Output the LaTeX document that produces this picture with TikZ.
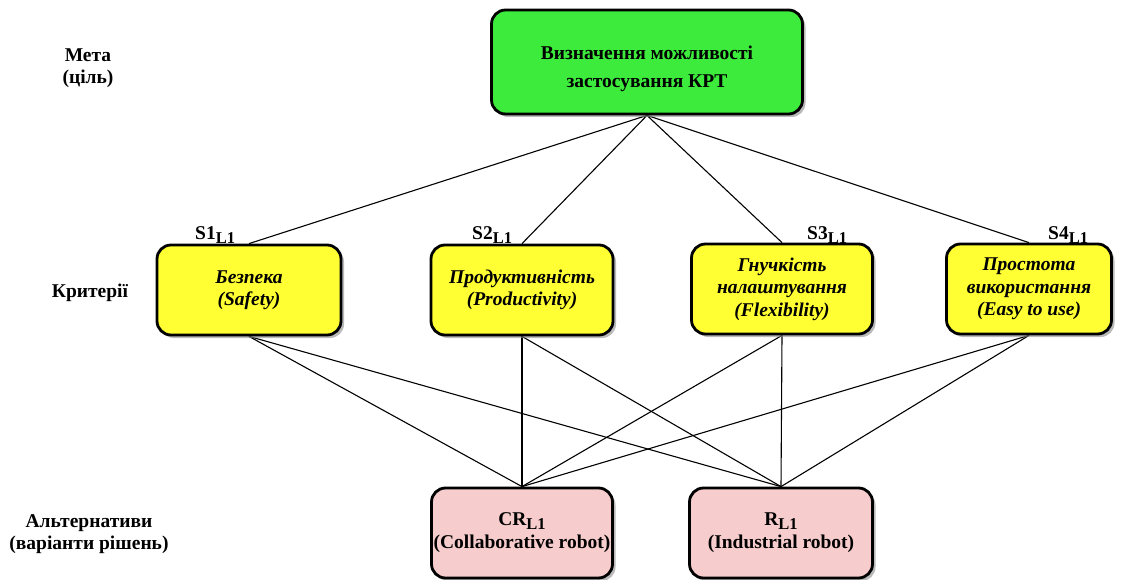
\documentclass[tikz,border=0pt]{standalone}
\usepackage{fontspec}
\setmainfont{LiberationSerif-Regular.ttf}[BoldFont=LiberationSerif-Bold.ttf, ItalicFont=LiberationSerif-Italic.ttf, BoldItalicFont=LiberationSerif-BoldItalic.ttf]
\usetikzlibrary{shadows,backgrounds}
\definecolor{goalgreen}{RGB}{60,235,60}
\definecolor{crityellow}{RGB}{255,255,51}
\definecolor{altpink}{RGB}{246,204,204}
\tikzset{
  box/.style={draw=black, line width=2.8pt, rounded corners=14pt, align=center,
    inner sep=1pt, drop shadow={shadow xshift=3pt, shadow yshift=-3pt, fill=black!45, opacity=0.6}},
  goalbox/.style={box, fill=goalgreen, minimum width=311pt, minimum height=104pt,
    font=\fontsize{19.5}{26}\selectfont\bfseries},
  critbox/.style={box, fill=crityellow, minimum height=90pt,
    font=\fontsize{19.5}{22.5}\selectfont\bfseries\itshape},
  altbox/.style={box, fill=altpink, minimum height=90pt,
    font=\fontsize{19.5}{23}\selectfont\bfseries},
  conn/.style={draw=black, line width=1.1pt},
  sidelabel/.style={align=center, font=\fontsize{19.5}{22}\selectfont\bfseries},
  slabel/.style={font=\fontsize{19.5}{20}\selectfont\bfseries, inner sep=0pt}
}
\newcommand{\subLone}{\raisebox{-0.4ex}{\fontsize{16.5}{16.5}\selectfont L1}}
\begin{document}
\begin{tikzpicture}[x=1pt,y=-1pt]
\useasboundingbox (0,0) rectangle (1124,580);

\node[goalbox] (goal) at (647,62) {\raisebox{-6pt}[\height][\depth]{\begin{tabular}{@{}c@{}}Визначення можливості\\[2pt]застосування КРТ\end{tabular}}};
\node[critbox, minimum width=184pt] (s1) at (249,290) {Безпека\\(Safety)};
\node[critbox, minimum width=182pt] (s2) at (522,290) {Продуктивність\\(Productivity)};
\node[critbox, minimum width=181pt] (s3) at (782,289) {Гнучкість\\налаштування\\(Flexibility)};
\node[critbox, minimum width=165pt] (s4) at (1029,289) {Простота\\використання\\(Easy to use)};
\node[altbox, minimum width=181pt] (cr) at (522,533) {CR\subLone\\(Collaborative robot)};
\node[altbox, minimum width=183pt] (r) at (781,533) {R\subLone\\(Industrial robot)};

\begin{scope}[on background layer]
\fill[white] (0,0) rectangle (1124,580);
\draw[conn] (goal.south) -- (s1.north);
\draw[conn] (goal.south) -- (s2.north);
\draw[conn] (goal.south) -- (s3.north);
\draw[conn] (goal.south) -- (s4.north);
\foreach \s in {s1,s2,s3,s4}{
  \draw[conn] (\s.south) -- (cr.north);
  \draw[conn] (\s.south) -- (r.north);
}
\end{scope}

\node[slabel, anchor=base west] (l1) at (195,240) {S1\subLone};
\node[slabel, anchor=base west] (l2) at (472,240) {S2\subLone};
\node[slabel, anchor=base west] (l3) at (807,240) {S3\subLone};
\node[slabel, anchor=base west] (l4) at (1048,240) {S4\subLone};

\node[sidelabel] (meta) at (88,68) {Мета\\(ціль)};
\node[sidelabel] (krit) at (90,293) {Критерії};
\node[sidelabel] (alt) at (89,534) {Альтернативи\\(варіанти рішень)};
\end{tikzpicture}
\end{document}
